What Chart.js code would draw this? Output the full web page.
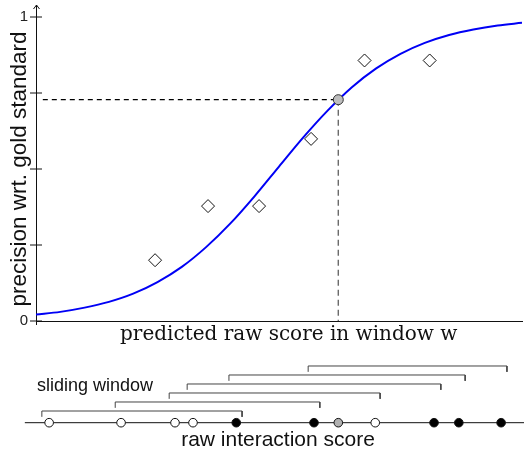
<!DOCTYPE html>
<html>
<head>
<meta charset="utf-8">
<script src="https://cdn.jsdelivr.net/npm/chart.js@4/dist/chart.umd.min.js"></script>
<style>
  html, body { margin: 0; padding: 0; background: #fff; }
  canvas { display: block; }
</style>
</head>
<body>
<canvas id="calib" width="524" height="345"></canvas>
<canvas id="windows" width="524" height="104"></canvas>
<script>
// ---- Calibration curve: precision vs. predicted raw score of a window ----
const curveScore     = [0, 0.5, 1, 1.5, 2, 2.5, 3, 3.5, 4, 4.5, 5, 5.5, 6, 6.5, 7, 7.5, 8, 8.5, 9, 9.5, 10];
const curvePrecision = [0.021, 0.030, 0.044, 0.063, 0.090, 0.128, 0.178, 0.243, 0.321, 0.411, 0.508,
                        0.604, 0.692, 0.769, 0.831, 0.879, 0.915, 0.941, 0.959, 0.972, 0.981];

// Observed precision of each sliding window
const windowScore     = [2.45, 3.54, 4.59, 5.66, 6.76, 8.10];
const windowPrecision = [0.200, 0.378, 0.378, 0.599, 0.857, 0.857];

// Query interaction
const queryScore = 6.22;
const queryPrecision = 0.728;

const precisionTicks = [0, 0.25, 0.5, 0.75, 1];
const labelledTicks  = [0, 1];

// ---- Raw interaction scores on the number line ----
const rawScores = [0.27, 1.75, 2.86, 3.23, 4.12, 5.72, 6.22, 6.98, 8.19, 8.70, 9.57];
const rawKind   = ['other', 'other', 'other', 'other', 'gold', 'gold', 'query', 'other', 'gold', 'gold', 'gold'];

// Sliding windows: first and last score covered, stacking tier
const windowStart = [0.12, 1.63, 2.74, 3.11, 3.97, 5.60];
const windowEnd   = [4.24, 5.84, 7.08, 8.33, 8.83, 9.69];
const windowTier  = [1, 2, 3, 4, 5, 6];

const SANS = '"Liberation Sans", Arial, sans-serif';
const SERIF = '"DejaVu Serif", serif';

// Free text placed in data coordinates
const captions = {
  id: 'captions',
  afterDraw(chart, args, opts) {
    const { ctx, scales: { x, y } } = chart;
    (opts.items || []).forEach(it => {
      ctx.save();
      ctx.font = it.font;
      ctx.fillStyle = it.color || '#111';
      ctx.textAlign = it.align || 'center';
      ctx.textBaseline = 'middle';
      ctx.fillText(it.text, x.getPixelForValue(it.x), y.getPixelForValue(it.y));
      ctx.restore();
    });
  }
};

// Arrow head on top of the y axis, plus a short overshoot below the x axis
const axisArrow = {
  id: 'axisArrow',
  afterDraw(chart) {
    const { ctx, chartArea } = chart;
    const x = Math.round(chartArea.left) + 0.5;
    const top = chartArea.top;
    const bottom = chartArea.bottom;
    ctx.save();
    ctx.strokeStyle = '#111';
    ctx.lineWidth = 1;
    ctx.beginPath();
    ctx.moveTo(x, top);
    ctx.lineTo(x, top - 12);
    ctx.moveTo(x - 3, top - 8);
    ctx.lineTo(x, top - 12);
    ctx.lineTo(x + 3, top - 8);
    ctx.moveTo(x, bottom);
    ctx.lineTo(x, bottom + 4);
    ctx.stroke();
    ctx.restore();
  }
};

const pts = (xs, ys) => xs.map((v, i) => ({ x: v, y: ys[i] }));

new Chart(document.getElementById('calib'), {
  type: 'scatter',
  data: {
    datasets: [
      { // fitted calibration curve
        data: pts(curveScore, curvePrecision),
        showLine: true, borderColor: '#0000f5', borderWidth: 2, pointRadius: 0,
        cubicInterpolationMode: 'monotone', order: 4
      },
      { // horizontal guide to the y axis
        data: [{ x: 0.14, y: queryPrecision }, { x: queryScore, y: queryPrecision }],
        showLine: true, borderColor: '#000', borderWidth: 1.2, borderDash: [5, 4], pointRadius: 0, order: 6
      },
      { // vertical guide to the x axis
        data: [{ x: queryScore, y: queryPrecision }, { x: queryScore, y: 0 }],
        showLine: true, borderColor: '#6a6a6a', borderWidth: 1.4, borderDash: [6, 4], pointRadius: 0, order: 6
      },
      { // window precision
        data: pts(windowScore, windowPrecision),
        pointStyle: 'rectRot', pointRadius: 6.5, backgroundColor: '#fff',
        borderColor: '#111', borderWidth: 1, order: 3
      },
      { // tick marks crossing the y axis
        data: precisionTicks.map(v => ({ x: 0, y: v })),
        pointStyle: 'line', pointRadius: 6, borderColor: '#111', borderWidth: 1, clip: false, order: 2
      },
      { // query interaction
        data: [{ x: queryScore, y: queryPrecision }],
        pointRadius: 5, backgroundColor: '#bdbdbd', borderColor: '#333', borderWidth: 1, order: 1
      }
    ]
  },
  options: {
    responsive: false, animation: false, events: [],
    layout: { autoPadding: false, padding: { left: 0, right: 2, top: 17, bottom: 0 } },
    plugins: {
      legend: { display: false },
      tooltip: { enabled: false },
      captions: {
        items: [{ text: 'predicted raw score in window w', x: 5.2, y: -0.045, font: '20px ' + SERIF, color: '#111' }]
      }
    },
    scales: {
      x: {
        type: 'linear', min: 0, max: 10,
        ticks: { display: false },
        grid: { display: false, drawTicks: false },
        border: { display: true, color: '#111', width: 1 },
        afterFit(s) { s.height = 24; }
      },
      y: {
        type: 'linear', min: 0, max: 1,
        afterBuildTicks(s) { s.ticks = precisionTicks.map(v => ({ value: v })); },
        ticks: {
          padding: 8, color: '#222', autoSkip: false,
          font: { family: SANS, size: 15 },
          callback: v => labelledTicks.includes(v) ? String(v) : ''
        },
        grid: { display: false, drawTicks: false },
        border: { display: true, color: '#111', width: 1 },
        title: {
          display: true, text: 'precision wrt. gold standard', color: '#111',
          font: { family: SANS, size: 22.5 }, padding: { top: 6, bottom: 0 }
        },
        afterFit(s) { s.width = 36; }
      }
    }
  },
  plugins: [captions, axisArrow]
});

// ---- Sliding windows over the raw score line ----
const AXIS_LEVEL = -0.3;
const HOOK = 0.65;
const kindFill = { other: '#ffffff', gold: '#000000', query: '#b0b0b0' };

const bracketSets = windowStart.map((s, i) => ({
  data: [
    { x: s, y: windowTier[i] - HOOK }, { x: s, y: windowTier[i] },
    { x: windowEnd[i], y: windowTier[i] }, { x: windowEnd[i], y: windowTier[i] - HOOK }
  ],
  showLine: true, borderColor: '#444', borderWidth: 1, pointRadius: 0, order: 3
}));

new Chart(document.getElementById('windows'), {
  type: 'scatter',
  data: {
    datasets: [
      { // number line
        data: [{ x: -0.23, y: AXIS_LEVEL }, { x: 10.05, y: AXIS_LEVEL }],
        showLine: true, borderColor: '#111', borderWidth: 1, pointRadius: 0, order: 2
      },
      ...bracketSets,
      { // interactions
        data: rawScores.map(s => ({ x: s, y: AXIS_LEVEL })),
        pointRadius: 4.3, borderWidth: 1, borderColor: '#111',
        backgroundColor: rawKind.map(k => kindFill[k]), clip: false, order: 1
      }
    ]
  },
  options: {
    responsive: false, animation: false, events: [],
    layout: { autoPadding: false, padding: 0 },
    plugins: {
      legend: { display: false },
      tooltip: { enabled: false },
      captions: {
        items: [
          { text: 'sliding window', x: 0.02, y: 3.8, align: 'left', font: '18px ' + SANS },
          { text: 'raw interaction score', x: 4.98, y: -2.3, font: '21px ' + SANS }
        ]
      }
    },
    scales: {
      x: { type: 'linear', display: false, min: -0.741, max: 10.041 },
      y: { type: 'linear', display: false, min: -3.222, max: 8.333 }
    }
  },
  plugins: [captions]
});
</script>
</body>
</html>
